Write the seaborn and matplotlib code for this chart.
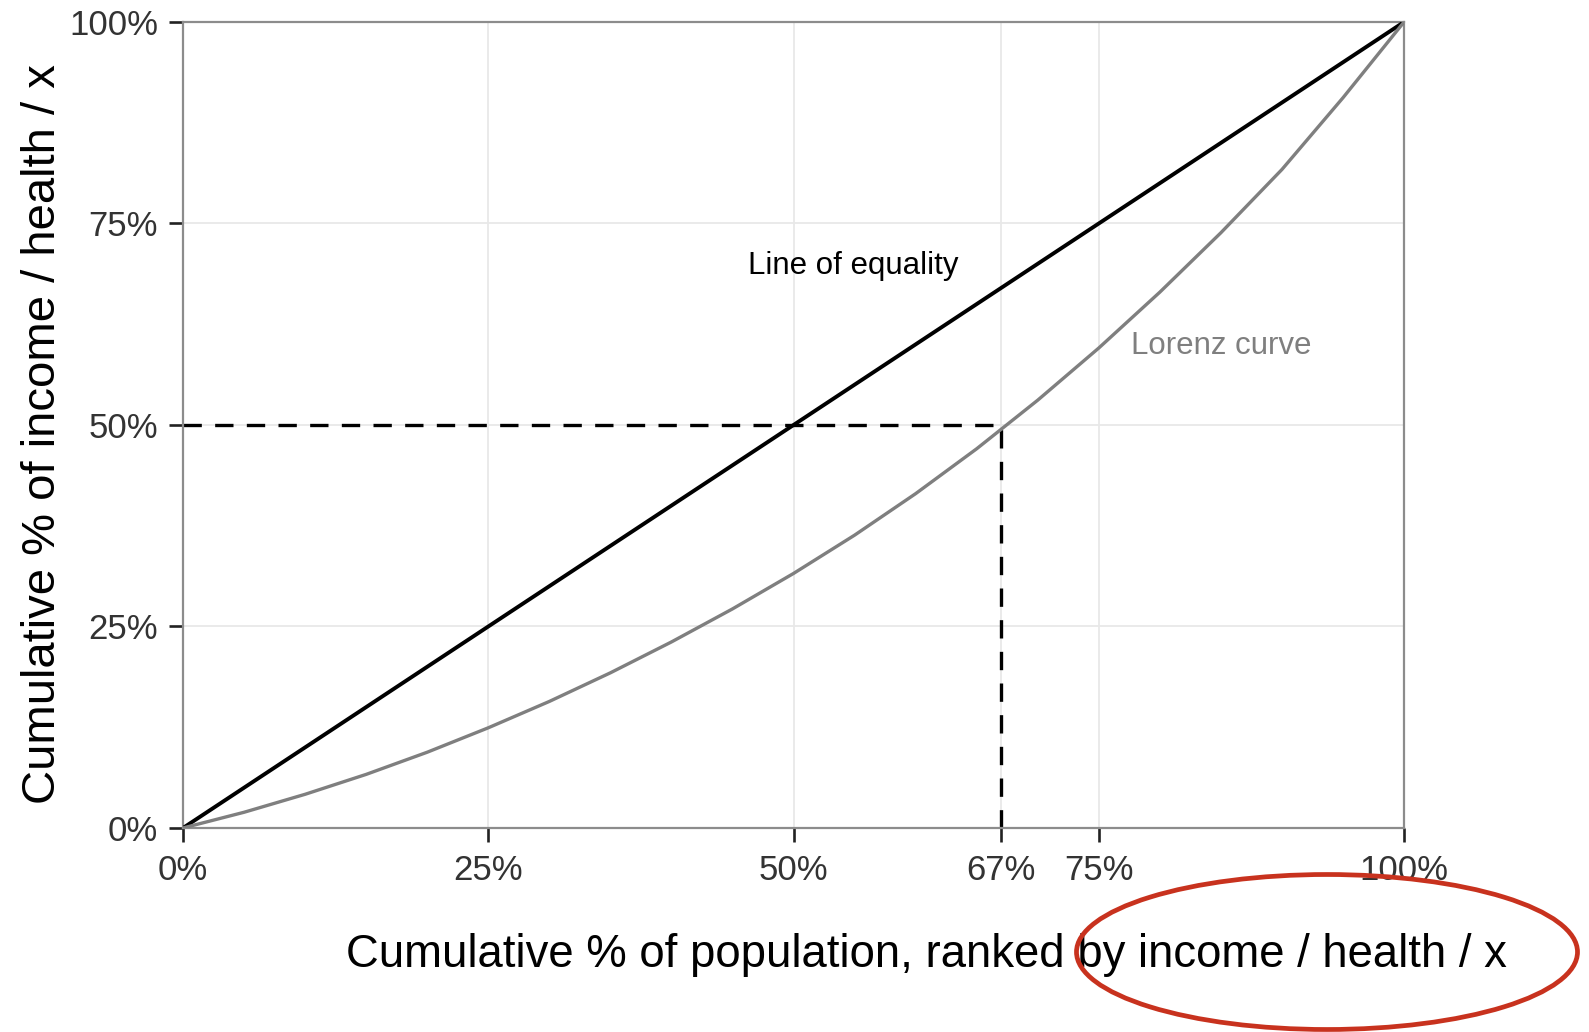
import numpy as np
import pandas as pd
import matplotlib
matplotlib.use("Agg")
import matplotlib.pyplot as plt
from matplotlib.patches import Ellipse
import seaborn as sns

# --- Data ---
equality_x = [0.0, 1.0]
equality_y = [0.0, 1.0]

lorenz_x = [0.0, 0.05, 0.10, 0.15, 0.20, 0.25, 0.30, 0.35, 0.40, 0.45, 0.50,
            0.55, 0.60, 0.65, 0.70, 0.75, 0.80, 0.85, 0.90, 0.95, 1.0]
lorenz_y = [0.0, 0.0195, 0.0418, 0.0665, 0.0940, 0.1243, 0.1570, 0.1925, 0.2308,
            0.2718, 0.3158, 0.3633, 0.4148, 0.4705, 0.5308, 0.5955, 0.6648,
            0.7385, 0.8170, 0.9060, 1.0]

median_x = 0.67
median_y = 0.50

x_ticks = [0, 0.25, 0.50, 0.67, 0.75, 1.0]
x_tick_labels = ["0%", "25%", "50%", "67%", "75%", "100%"]
y_ticks = [0, 0.25, 0.50, 0.75, 1.0]
y_tick_labels = ["0%", "25%", "50%", "75%", "100%"]

x_label = "Cumulative % of population, ranked by income / health / x"
y_label = "Cumulative % of income / health / x"

sns.set_theme(style="white")
plt.rcParams['font.family'] = ['Liberation Sans', 'DejaVu Sans']

fig = plt.figure(figsize=(15.89, 10.32), dpi=100)
ax = fig.add_axes([0.1152, 0.1977, 0.7684, 0.7810])

eq_df = pd.DataFrame({"x": equality_x, "y": equality_y})
lz_df = pd.DataFrame({"x": lorenz_x, "y": lorenz_y})

# dashed guide lines for the 67% / 50% point
ax.plot([0, median_x], [median_y, median_y], color="black", lw=2.4,
        dashes=(5.5, 4), zorder=2)
ax.plot([median_x, median_x], [0, median_y], color="black", lw=2.4,
        dashes=(5.5, 4), zorder=2)

sns.lineplot(data=eq_df, x="x", y="y", ax=ax, color="black", lw=2.8,
             sort=False, zorder=3)
sns.lineplot(data=lz_df, x="x", y="y", ax=ax, color="#7f7f7f", lw=2.4,
             sort=False, zorder=3)

ax.text(0.463, 0.697, "Line of equality", fontsize=22.5, color="black",
        ha="left", va="center")
ax.text(0.776, 0.598, "Lorenz curve", fontsize=22.5, color="#7f7f7f",
        ha="left", va="center")

ax.set_xlim(0, 1)
ax.set_ylim(0, 1)
ax.set_xticks(x_ticks)
ax.set_xticklabels(x_tick_labels)
ax.set_yticks(y_ticks)
ax.set_yticklabels(y_tick_labels)
ax.grid(True, color="#e8e8e8", lw=1.3, zorder=0)
ax.set_axisbelow(True)

for side in ["left", "right", "top", "bottom"]:
    ax.spines[side].set_visible(True)
    ax.spines[side].set_color("#8c8c8c")
    ax.spines[side].set_linewidth(1.6)

ax.tick_params(axis="both", which="major", length=10, width=1.9,
               color="#222222", labelsize=25, labelcolor="#333333",
               direction="out", bottom=True, left=True)
ax.tick_params(axis="x", pad=9)
ax.tick_params(axis="y", pad=8)

ax.set_xlabel(x_label, fontsize=32.8, color="black")
ax.set_ylabel(y_label, fontsize=34, color="black")
ax.xaxis.set_label_coords(0.6085, -0.158)
ax.xaxis.label.set_va("center")
ax.yaxis.set_label_coords(-0.1147, 0.489)
ax.yaxis.label.set_va("center")

# red highlight ellipse around the end of the x label
ell = Ellipse((1327 / 1589, 1 - 952 / 1032), 501 / 1589, 155 / 1032,
              transform=fig.transFigure, fill=False, edgecolor="#c8321e",
              lw=3.4, clip_on=False)
fig.add_artist(ell)

fig.savefig("out.png", dpi=100)
